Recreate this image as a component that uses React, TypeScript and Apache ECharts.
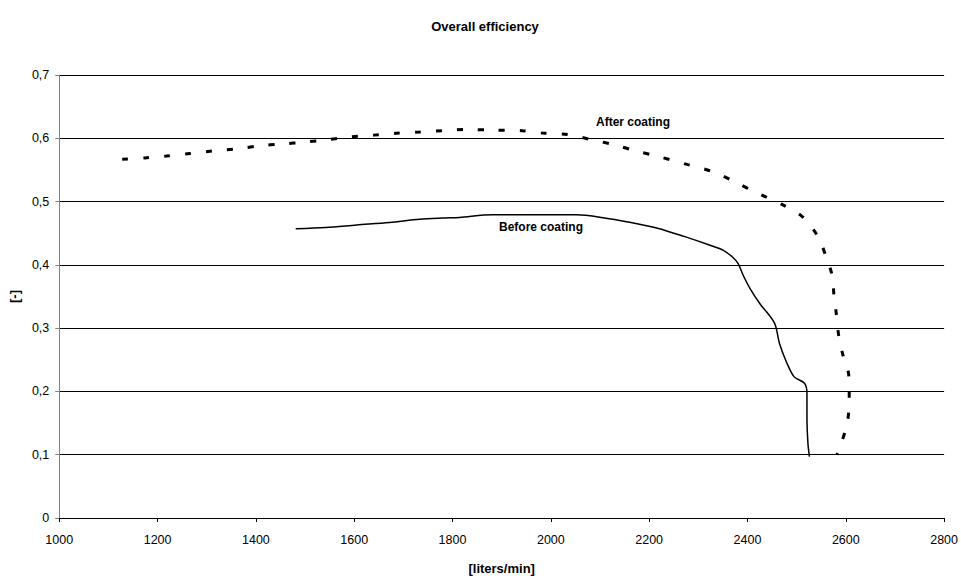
import React, { useEffect, useRef } from "react";
import * as echarts from "echarts";

const afterX = [1128, 1174, 1218, 1266, 1312, 1360, 1406, 1453, 1500, 1547, 1592, 1640, 1686, 1733, 1780, 1827, 1881, 1941, 1987, 2035, 2081, 2128, 2173, 2220, 2271, 2334, 2377, 2424, 2469, 2512, 2543, 2560, 2572, 2576, 2581, 2586, 2595, 2606, 2607, 2603, 2586, 2582];
const afterY = [0.567, 0.569, 0.572, 0.576, 0.58, 0.583, 0.588, 0.591, 0.594, 0.598, 0.602, 0.605, 0.608, 0.61, 0.612, 0.614, 0.613, 0.612, 0.608, 0.606, 0.598, 0.59, 0.58, 0.571, 0.56, 0.546, 0.53, 0.512, 0.496, 0.476, 0.445, 0.413, 0.384, 0.352, 0.321, 0.286, 0.255, 0.226, 0.189, 0.15, 0.107, 0.1];

const beforeX = [1481, 1542, 1605, 1672, 1733, 1780, 1814, 1881, 1950, 2002, 2052, 2103, 2163, 2217, 2271, 2324, 2351, 2370, 2381, 2391, 2405, 2425, 2455, 2465, 2479, 2495, 2516, 2521, 2521, 2523, 2526];
const beforeY = [0.457, 0.459, 0.463, 0.467, 0.472, 0.474, 0.475, 0.479, 0.479, 0.479, 0.479, 0.475, 0.467, 0.458, 0.445, 0.431, 0.423, 0.412, 0.402, 0.384, 0.363, 0.339, 0.308, 0.276, 0.247, 0.223, 0.213, 0.197, 0.16, 0.118, 0.097];

const xTicks = [1000, 1200, 1400, 1600, 1800, 2000, 2200, 2400, 2600, 2800];
const yTicks = [0, 0.1, 0.2, 0.3, 0.4, 0.5, 0.6, 0.7];

const FONT = "Liberation Sans, Arial, sans-serif";

export default function App() {
  const ref = useRef<HTMLDivElement>(null);
  useEffect(() => {
    if (!ref.current) return;
    const chart = echarts.init(ref.current, undefined, { renderer: "svg" });
    chart.setOption({
      animation: false,
      backgroundColor: "#fff",
      title: {
        text: "Overall efficiency",
        left: 480,
        top: 15,
        textAlign: "center",
        textStyle: { fontFamily: FONT, fontSize: 13, fontWeight: "bold", color: "#000" },
      },
      grid: { left: 53, right: 15, top: 75, bottom: 62 },
      xAxis: {
        type: "value",
        min: xTicks[0],
        max: xTicks[xTicks.length - 1],
        interval: 200,
        name: "[liters/min]",
        nameLocation: "middle",
        nameGap: 44,
        nameTextStyle: { fontFamily: FONT, fontSize: 13, fontWeight: "bold", color: "#000" },
        axisLine: { lineStyle: { color: "#000", width: 1 } },
        axisTick: { show: true, length: 4, lineStyle: { color: "#000" } },
        axisLabel: {
          fontFamily: FONT,
          fontSize: 12.5,
          color: "#000",
          margin: 15,
          formatter: (v: number) => String(v),
        },
        splitLine: { show: false },
      },
      yAxis: {
        type: "value",
        min: yTicks[0],
        max: yTicks[yTicks.length - 1],
        interval: 0.1,
        name: "[-]",
        nameLocation: "middle",
        nameGap: 36,
        nameRotate: 90,
        nameTextStyle: { fontFamily: FONT, fontSize: 13, fontWeight: "bold", color: "#000" },
        axisLine: { show: true, lineStyle: { color: "#808080", width: 1 } },
        axisTick: { show: true, length: 4, lineStyle: { color: "#808080" } },
        axisLabel: {
          fontFamily: FONT,
          fontSize: 12.5,
          color: "#000",
          margin: 10,
          formatter: (v: number) => (Math.round(v * 10) / 10).toString().replace(".", ","),
        },
        splitLine: { show: true, lineStyle: { color: "#000", width: 1 } },
      },
      series: [
        {
          name: "After coating",
          type: "line",
          data: afterX.map((x, i) => [x, afterY[i]]),
          showSymbol: false,
          smooth: 0.3,
          lineStyle: { color: "#000", width: 3, type: [6, 15] },
          z: 3,
        },
        {
          name: "Before coating",
          type: "line",
          data: beforeX.map((x, i) => [x, beforeY[i]]),
          showSymbol: false,
          smooth: 0.3,
          lineStyle: { color: "#000", width: 1.5 },
          z: 3,
        },
      ],
      graphic: [
        {
          type: "text",
          left: 596,
          top: 116,
          style: { text: "After coating", font: `bold 12px ${FONT}`, fill: "#000" },
          z: 10,
        },
        {
          type: "text",
          left: 499,
          top: 221,
          style: { text: "Before coating", font: `bold 12px ${FONT}`, fill: "#000" },
          z: 10,
        },
      ],
    });
    return () => chart.dispose();
  }, []);
  return (
    <div
      ref={ref}
      style={{ position: "absolute", left: 0, top: 0, width: 961, height: 580 }}
    />
  );
}
